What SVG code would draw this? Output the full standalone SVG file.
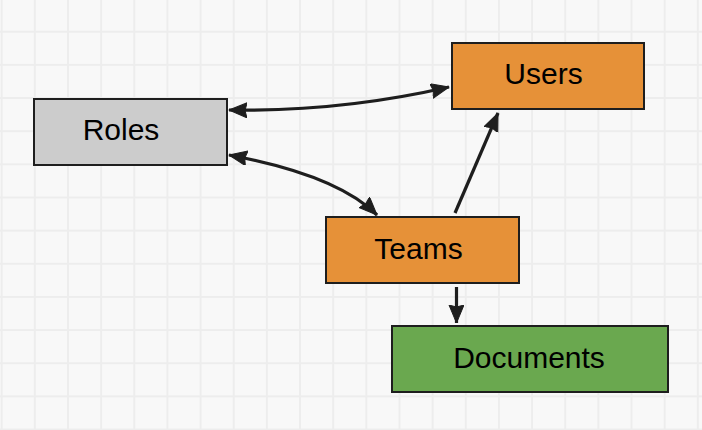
<svg xmlns="http://www.w3.org/2000/svg" width="702" height="430" viewBox="0 0 702 430">
<defs>
<pattern id="grid" patternUnits="userSpaceOnUse" x="-14.9" y="-18" width="33.15" height="33.15">
<line x1="16.575" y1="0" x2="16.575" y2="33.15" stroke="#ededed" stroke-width="2"/>
<line x1="0" y1="16.575" x2="33.15" y2="16.575" stroke="#ededed" stroke-width="2"/>
</pattern>
<marker id="ah" markerUnits="userSpaceOnUse" markerWidth="20" markerHeight="16" refX="18" refY="7.5" orient="auto-start-reverse" viewBox="0 0 20 16">
<path d="M0,0 L18,7.5 L0,15 L2,7.5 Z" fill="#1e1e1e" stroke="#1e1e1e" stroke-width="1" stroke-linejoin="round"/>
</marker>
<style>
.box{stroke:#1e1e1e;stroke-width:2}
.lbl{font-family:"Liberation Sans",Arial,sans-serif;font-size:30px;fill:#000000;text-anchor:middle}
.conn path{fill:none;stroke:#1e1e1e;stroke-width:3.2;stroke-linecap:butt}
</style>
</defs>
<rect width="702" height="430" fill="#f8f8f8"/>
<rect width="702" height="430" fill="url(#grid)"/>
<g id="connectors" class="conn">
<path d="M229,110 Q340,112 449,87" marker-start="url(#ah)" marker-end="url(#ah)"/>
<path d="M229,155 Q337,175 377,215" marker-start="url(#ah)" marker-end="url(#ah)"/>
<path d="M455,213 L498,113" marker-end="url(#ah)"/>
<path d="M456.5,287 L456.5,323" marker-end="url(#ah)"/>
</g>
<g id="roles">
<rect class="box" x="34" y="99" width="193" height="66" fill="#cccccc"/>
<text class="lbl" x="121" y="140">Roles</text>
</g>
<g id="users">
<rect class="box" x="452" y="43" width="192" height="66" fill="#e69138"/>
<text class="lbl" x="543.5" y="84">Users</text>
</g>
<g id="teams">
<rect class="box" x="326" y="217" width="193" height="66" fill="#e69138"/>
<text class="lbl" x="418.5" y="258.5">Teams</text>
</g>
<g id="documents">
<rect class="box" x="392" y="326" width="276" height="66" fill="#6aa84f"/>
<text class="lbl" x="529" y="367.5">Documents</text>
</g>
</svg>
